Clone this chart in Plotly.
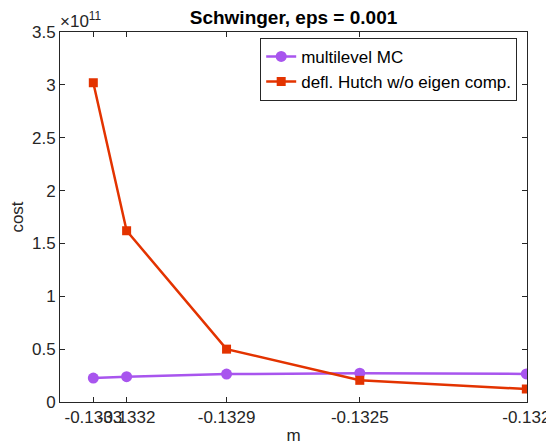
import plotly.graph_objects as go

m_vals = [-0.1333, -0.1332, -0.1329, -0.1325, -0.1320]
mlmc_cost = [0.226e11, 0.239e11, 0.264e11, 0.272e11, 0.266e11]
hutch_cost = [3.02e11, 1.62e11, 0.50e11, 0.205e11, 0.123e11]
x_tick_vals = [-0.1333, -0.1332, -0.1329, -0.1325, -0.1320]
x_tick_text = ["-0.1333", "-0.1332", "-0.1329", "-0.1325", "-0.132"]
y_tick_vals = [0, 0.5e11, 1e11, 1.5e11, 2e11, 2.5e11, 3e11, 3.5e11]
y_tick_text = ["0", "0.5", "1", "1.5", "2", "2.5", "3", "3.5"]

purple = "#A855EE"
red = "#E33300"
font = "Liberation Sans, Arial, sans-serif"
axis_color = "#262626"

fig = go.Figure()
fig.add_trace(go.Scatter(
    x=m_vals, y=mlmc_cost, mode="lines+markers", name="multilevel MC",
    line=dict(color=purple, width=2.5),
    marker=dict(symbol="circle", size=11, color=purple)))
fig.add_trace(go.Scatter(
    x=m_vals, y=hutch_cost, mode="lines+markers", name="defl. Hutch w/o eigen comp.",
    line=dict(color=red, width=2.5),
    marker=dict(symbol="square", size=9, color=red)))

axis_common = dict(showline=True, linecolor=axis_color, linewidth=1, mirror="ticks",
                   ticks="inside", ticklen=5, tickcolor=axis_color, showgrid=False,
                   zeroline=False, automargin=False, tickangle=0,
                   tickfont=dict(family=font, size=17, color=axis_color))

fig.update_xaxes(range=[-0.1334, -0.131998], tickvals=x_tick_vals, ticktext=x_tick_text,
                 title=dict(text="m", font=dict(family=font, size=17, color=axis_color), standoff=2),
                 **axis_common)
fig.update_yaxes(range=[0, 3.5e11], tickvals=y_tick_vals, ticktext=y_tick_text,
                 title=dict(text="cost", font=dict(family=font, size=17, color=axis_color), standoff=6),
                 **axis_common)

fig.add_annotation(text="×10<sup>11</sup>", xref="paper", yref="paper", x=0, y=1,
                   xanchor="left", yanchor="bottom", showarrow=False, yshift=-1, xshift=-2,
                   font=dict(family=font, size=17, color=axis_color))

# page body has an 8px margin; compensate so the plot area lands where the reference's does
fig.update_layout(
    width=546, height=439,
    margin=dict(l=52, r=27, t=24, b=45),
    paper_bgcolor="white", plot_bgcolor="white",
    title=dict(text="<b>Schwinger, eps = 0.001</b>", x=0.5, xref="paper", xanchor="center",
               y=0.978, yanchor="middle",
               font=dict(family=font, size=19, color="black")),
    legend=dict(x=0.979, y=0.984, xanchor="right", yanchor="top",
                bordercolor=axis_color, borderwidth=1, bgcolor="white",
                font=dict(family=font, size=17, color="black"),
                tracegroupgap=0, itemwidth=30),
    showlegend=True,
    font=dict(family=font),
)

fig.write_html("out.html")
